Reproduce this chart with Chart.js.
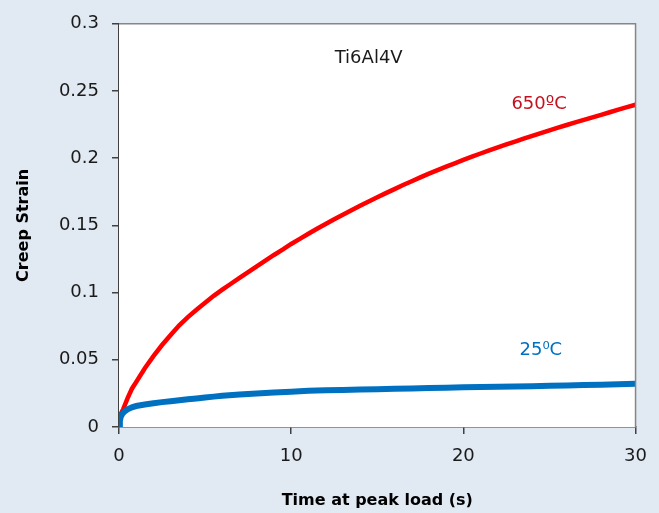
<!DOCTYPE html>
<html>
<head>
<meta charset="utf-8">
<script src="https://cdn.jsdelivr.net/npm/chart.js@4/dist/chart.umd.min.js"></script>
<style>
  html, body { margin: 0; padding: 0; background: #e1e9f3; }
  #wrap { width: 659px; height: 513px; }
</style>
</head>
<body>
<div id="wrap"><canvas id="c" width="659" height="513"></canvas></div>
<script>
// ---- data ----
const redTime = [0.1,0.25,0.5,0.75,1.0,1.5,2.0,2.5,3.0,3.5,4.0,4.5,5.0,5.5,6.0,6.5,7.0,7.5,8.0,8.5,9.0,9.5,10.0,10.5,11.0,11.5,12.0,12.5,13.0,13.5,14.0,14.5,15.0,15.5,16.0,16.5,17.0,17.5,18.0,18.5,19.0,19.5,20.0,20.5,21.0,21.5,22.0,22.5,23.0,23.5,24.0,24.5,25.0,25.5,26.0,26.5,27.0,27.5,28.0,28.5,29.0,29.5,30.0];
const redStrain = [0.0095,0.0135,0.0215,0.0285,0.0335,0.0437,0.0527,0.0610,0.0685,0.0757,0.0818,0.0873,0.0925,0.0976,0.1022,0.1066,0.1110,0.1153,0.1196,0.1238,0.1280,0.1320,0.1362,0.1400,0.1438,0.1475,0.1511,0.1546,0.1580,0.1613,0.1646,0.1678,0.1709,0.1740,0.1770,0.1800,0.1829,0.1857,0.1885,0.1911,0.1937,0.1962,0.1987,0.2011,0.2035,0.2058,0.2080,0.2102,0.2124,0.2145,0.2166,0.2187,0.2207,0.2227,0.2247,0.2266,0.2285,0.2304,0.2323,0.2342,0.2361,0.2380,0.2398];

const blueTime = [0,0.05,0.1,0.2,0.3,0.5,0.75,1.0,1.5,2.0,2.5,3.0,3.5,4.0,4.5,5.0,5.5,6.0,7.0,8.0,9.0,10,11,12,13,14,15,16,17,18,19,20,21,22,23,24,25,26,27,28,29,30];
const blueStrain = [0.0,0.0045,0.0075,0.0100,0.0113,0.0131,0.0146,0.0156,0.0167,0.0176,0.0185,0.0192,0.0199,0.0206,0.0212,0.0219,0.0226,0.0232,0.0242,0.0250,0.0256,0.0262,0.0269,0.0273,0.0276,0.0279,0.0281,0.0284,0.0287,0.0290,0.0292,0.0295,0.0297,0.0300,0.0301,0.0304,0.0306,0.0309,0.0312,0.0315,0.0318,0.0322];

const xTicks = [0,10,20,30];
const xTickLabels = ['0','10','20','30'];
const yTicks = [0,0.05,0.1,0.15,0.2,0.25,0.3];
const yTickLabels = ['0','0.05','0.1','0.15','0.2','0.25','0.3'];

const seriesNames = ['25⁰C','650ºC'];
const chartTitle = 'Ti6Al4V';
const xTitle = 'Time at peak load (s)';
const yTitle = 'Creep Strain';

// ---- chart ----
const FONT = "'DejaVu Sans', sans-serif";
const toPts = (xs, ys) => xs.map((x, i) => ({x: x, y: ys[i]}));

const annotations = [
  {text: chartTitle,     x: 14.5, y: 0.274, color: '#1a1a1a'},
  {text: seriesNames[1], x: 24.4, y: 0.240, color: '#c4121f'},
  {text: seriesNames[0], x: 24.5, y: 0.057, color: '#0070c0'}
];

const framePlugin = {
  id: 'frame',
  beforeDatasetsDraw(chart) {
    const {ctx, chartArea: a} = chart;
    ctx.save();
    ctx.fillStyle = '#ffffff';
    ctx.fillRect(a.left, a.top, a.right - a.left, a.bottom - a.top);
    ctx.restore();
  },
  afterDatasetsDraw(chart) {
    const {ctx, chartArea: a, scales} = chart;
    ctx.save();
    ctx.strokeStyle = '#868686';
    ctx.lineWidth = 1.5;
    ctx.beginPath();
    ctx.moveTo(a.left, a.top);
    ctx.lineTo(a.right, a.top);
    ctx.lineTo(a.right, a.bottom);
    ctx.stroke();
    ctx.font = "18px " + FONT;
    ctx.textAlign = 'center';
    ctx.textBaseline = 'middle';
    annotations.forEach(an => {
      ctx.fillStyle = an.color;
      ctx.fillText(an.text, scales.x.getPixelForValue(an.x), scales.y.getPixelForValue(an.y));
    });
    ctx.restore();
  }
};

new Chart(document.getElementById('c'), {
  type: 'line',
  data: {
    datasets: [
      {label: seriesNames[0], data: toPts(blueTime, blueStrain), borderColor: '#0070c0', borderWidth: 6, pointRadius: 0, tension: 0},
      {label: seriesNames[1], data: toPts(redTime, redStrain), borderColor: '#ff0000', borderWidth: 4.5, pointRadius: 0, tension: 0}
    ]
  },
  options: {
    responsive: false,
    animation: false,
    layout: {padding: {top: 23, right: 23, left: 0, bottom: 0}},
    plugins: {legend: {display: false}, tooltip: {enabled: false}},
    scales: {
      x: {
        type: 'linear', min: 0, max: 30,
        afterBuildTicks: s => { s.ticks = xTicks.map(v => ({value: v})); },
        afterFit: s => { s.height = 86; },
        ticks: {
          callback: (v) => xTickLabels[xTicks.indexOf(v)],
          font: {family: FONT, size: 18}, color: '#1a1a1a', padding: 12, maxRotation: 0
        },
        grid: {display: true, drawOnChartArea: false, drawTicks: true, tickLength: 7, color: '#404040', lineWidth: 1.5},
        border: {display: true, color: '#404040', width: 1.5},
        title: {display: true, text: xTitle, font: {family: FONT, size: 16, weight: 'bold'}, color: '#000', padding: {top: 0, bottom: 3}}
      },
      y: {
        type: 'linear', min: 0, max: 0.3,
        afterBuildTicks: s => { s.ticks = yTicks.map(v => ({value: v})); },
        afterFit: s => { s.width = 119; },
        ticks: {
          callback: (v) => yTickLabels[yTicks.findIndex(t => Math.abs(t - v) < 1e-9)],
          font: {family: FONT, size: 18}, color: '#1a1a1a', padding: 13
        },
        grid: {display: true, drawOnChartArea: false, drawTicks: true, tickLength: 7, color: '#404040', lineWidth: 1.5},
        border: {display: true, color: '#404040', width: 1.5},
        title: {display: true, text: yTitle, font: {family: FONT, size: 16, weight: 'bold'}, color: '#000', padding: {top: 14, bottom: 0}}
      }
    }
  },
  plugins: [framePlugin]
});
</script>
</body>
</html>
